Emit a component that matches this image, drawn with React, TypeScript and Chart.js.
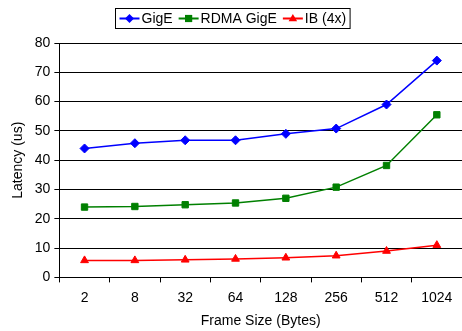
import React, { useEffect, useRef } from "react";
import { Chart, registerables } from "chart.js";

Chart.register(...registerables);

const categories = ["2", "8", "32", "64", "128", "256", "512", "1024"];
const gigE = [44, 45.8, 46.8, 46.8, 49, 50.8, 59, 74];
const rdmaGigE = [24, 24.2, 24.8, 25.4, 27, 30.8, 38.2, 55.5];
const ib4x = [5.8, 5.8, 6, 6.3, 6.7, 7.4, 9, 11];
const seriesNames = ["GigE", "RDMA GigE", "IB (4x)"];
const seriesColors = ["#0000FF", "#008000", "#FF0000"];
const seriesMarkers = ["rectRot", "rect", "triangle"];

const FONT = "'Liberation Sans', Arial, sans-serif";

function drawMarker(ctx: CanvasRenderingContext2D, style: string, x: number, y: number, r: number) {
  ctx.beginPath();
  if (style === "rectRot") {
    ctx.moveTo(x, y - r);
    ctx.lineTo(x + r, y);
    ctx.lineTo(x, y + r);
    ctx.lineTo(x - r, y);
  } else if (style === "rect") {
    const s = r * 0.8;
    ctx.rect(x - s, y - s, 2 * s, 2 * s);
  } else {
    ctx.moveTo(x, y - r);
    ctx.lineTo(x + r * 0.95, y + r * 0.6);
    ctx.lineTo(x - r * 0.95, y + r * 0.6);
  }
  ctx.closePath();
  ctx.fill();
}

const legendPlugin = {
  id: "boxLegend",
  afterDraw(chart: any) {
    const ctx = chart.ctx as CanvasRenderingContext2D;
    ctx.save();
    ctx.font = `14px ${FONT}`;
    const lineLen = 20;
    const gap = 2;
    const itemGap = 6;
    const widths = seriesNames.map((n) => lineLen + gap + ctx.measureText(n).width);
    const total = widths.reduce((a, b) => a + b, 0) + itemGap * (seriesNames.length - 1) + 8;
    const cx = 232;
    const left = Math.round(cx - total / 2) + 0.5;
    const top = 8.5;
    const h = 20;
    ctx.strokeStyle = "#000";
    ctx.lineWidth = 1;
    ctx.strokeRect(left, top, total, h);
    let x = left + 4;
    const y = top + h / 2;
    seriesNames.forEach((n, i) => {
      ctx.strokeStyle = seriesColors[i];
      ctx.lineWidth = 2;
      ctx.beginPath();
      ctx.moveTo(x, y);
      ctx.lineTo(x + lineLen, y);
      ctx.stroke();
      ctx.fillStyle = seriesColors[i];
      drawMarker(ctx, seriesMarkers[i], x + lineLen / 2, y, 4.5);
      ctx.fillStyle = "#000";
      ctx.textBaseline = "middle";
      ctx.fillText(n, x + lineLen + gap, y + 1);
      x += widths[i] + itemGap;
    });
    ctx.restore();
  },
};

export default function App() {
  const ref = useRef<HTMLCanvasElement>(null);
  useEffect(() => {
    document.body.style.margin = "0";
    const data = [gigE, rdmaGigE, ib4x];
    const chart = new Chart(ref.current!, {
      type: "line",
      data: {
        labels: categories,
        datasets: seriesNames.map((n, i) => ({
          label: n,
          data: data[i],
          borderColor: seriesColors[i],
          backgroundColor: seriesColors[i],
          borderWidth: 1.5,
          pointStyle: seriesMarkers[i] as any,
          pointRadius: 4.5,
          pointBorderWidth: 1,
          tension: 0,
          clip: false as any,
        })),
      },
      options: {
        animation: false,
        responsive: false,
        layout: { autoPadding: false, padding: { top: 43, right: -2, left: 10, bottom: 1 } },
        plugins: { legend: { display: false }, tooltip: { enabled: false } },
        scales: {
          x: {
            offset: true,
            afterFit: (scale: any) => {
              scale.paddingRight = 0;
            },
            grid: { offset: true, drawOnChartArea: false, drawTicks: true, tickLength: 5, color: "#000" },
            border: { color: "#000", width: 1 },
            ticks: { color: "#000", font: { family: FONT, size: 14 }, padding: 7 },
            title: { display: true, text: "Frame Size (Bytes)", color: "#000", font: { family: FONT, size: 14 }, padding: { top: 0, bottom: 0 } },
          },
          y: {
            min: 0,
            max: 80,
            ticks: { stepSize: 10, color: "#000", font: { family: FONT, size: 14 }, padding: 4 },
            grid: { color: "#000", tickLength: 5, lineWidth: 1 },
            border: { color: "#000", width: 1 },
            title: { display: true, text: "Latency (us)", color: "#000", font: { family: FONT, size: 14 }, padding: { top: 0, bottom: 4 } },
          },
        },
      },
      plugins: [legendPlugin],
    });
    return () => chart.destroy();
  }, []);
  return <canvas ref={ref} width={462} height={331} style={{ display: "block" }} />;
}
